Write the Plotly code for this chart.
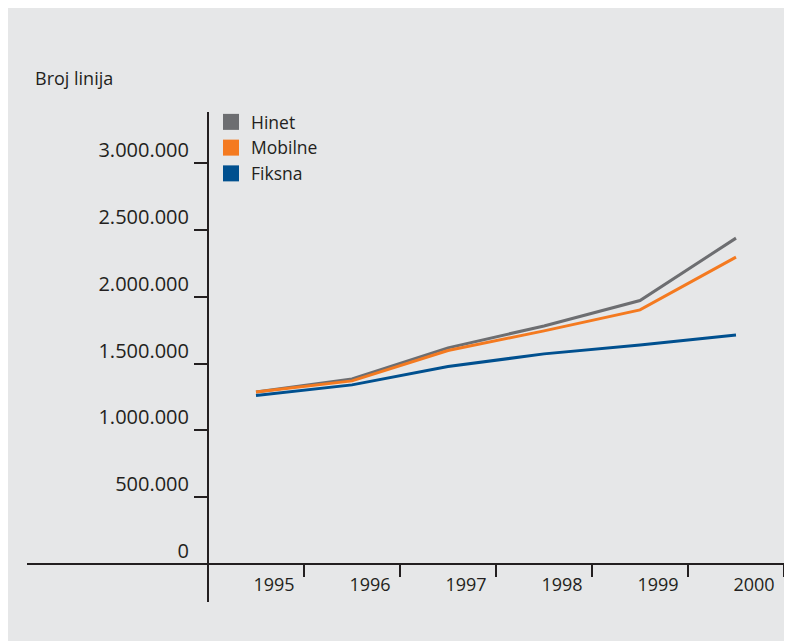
import plotly.graph_objects as go

years = [1995, 1996, 1997, 1998, 1999, 2000]
hinet = [1287000, 1385000, 1617000, 1781000, 1971000, 2438000]
mobilne = [1287000, 1370000, 1597000, 1744000, 1901000, 2296000]
fiksna = [1261000, 1340000, 1477000, 1572000, 1639000, 1714000]

y_tickvals = [0, 500000, 1000000, 1500000, 2000000, 2500000, 3000000]
y_ticktext = ["0", "500.000", "1.000.000", "1.500.000", "2.000.000", "2.500.000", "3.000.000"]
x_tickvals = [1995.5, 1996.5, 1997.5, 1998.5, 1999.5, 2000.5]
x_ticktext = ["1995", "1996", "1997", "1998", "1999", "2000"]

series_names = ["Hinet", "Mobilne", "Fiksna"]
colors = ["#6d6e71", "#f47a20", "#00508f"]

BG = "#e6e7e8"
AX = "#231f20"
FONT = "Open Sans"

X_RANGE = [1994.5 - 181 / 96, 2000.5]
Y_RANGE = [-284300, 3381500]

fig = go.Figure()
for name, vals, col in zip(series_names, [hinet, mobilne, fiksna], colors):
    fig.add_trace(go.Scatter(x=years, y=vals, mode="lines", name=name,
                             line=dict(color=col, width=3), showlegend=False))
for name, col in zip(series_names, colors):
    fig.add_trace(go.Scatter(x=[None], y=[None], mode="markers", name=name,
                             marker=dict(symbol="square", size=19, color=col)))

ypos = (1994.5 - X_RANGE[0]) / (X_RANGE[1] - X_RANGE[0])
xpos = (0 - Y_RANGE[0]) / (Y_RANGE[1] - Y_RANGE[0])

fig.update_layout(
    width=784, height=633,
    margin=dict(l=19, r=8, t=104, b=39),
    paper_bgcolor=BG,
    plot_bgcolor=BG,
    font=dict(family=FONT, size=18, color=AX),
    xaxis=dict(range=X_RANGE, anchor="free", position=xpos,
               tickvals=x_tickvals, ticktext=x_ticktext,
               showline=True, linecolor=AX, linewidth=2,
               ticks="outside", ticklen=12, tickwidth=2, tickcolor=AX,
               ticklabelshift=-30, ticklabelstandoff=-8,
               showgrid=False, zeroline=False,
               tickfont=dict(family=FONT, size=18, color=AX)),
    yaxis=dict(range=Y_RANGE, anchor="free", position=ypos,
               tickvals=y_tickvals, ticktext=y_ticktext,
               showline=True, linecolor=AX, linewidth=2,
               ticks="outside", ticklen=13, tickwidth=2, tickcolor=AX,
               ticklabelshift=-13, ticklabelstandoff=1,
               showgrid=False, zeroline=False,
               tickfont=dict(family=FONT, size=20, color=AX)),
    legend=dict(x=(211 - 27) / 757, y=(602 - 104) / 490, xanchor="left", yanchor="top",
                bgcolor="rgba(0,0,0,0)", font=dict(family=FONT, size=17.5, color=AX),
                tracegroupgap=0, itemsizing="trace"),
    showlegend=True,
)

fig.add_annotation(text="Broj linija", xref="paper", yref="paper",
                   x=(33 - 27) / 757, y=(602 - 78) / 490, xanchor="left", yanchor="middle",
                   showarrow=False, font=dict(family=FONT, size=18, color=AX))

fig.write_html("out.html")
